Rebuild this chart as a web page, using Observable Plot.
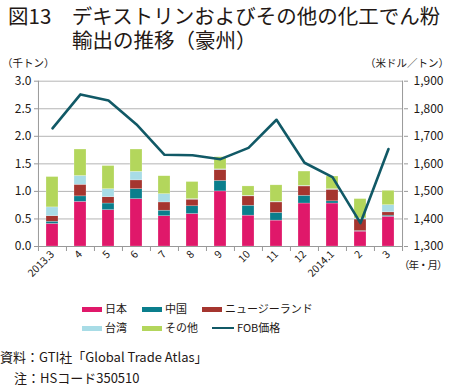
<!DOCTYPE html>
<html><head><meta charset="utf-8">
<script src="https://cdn.jsdelivr.net/npm/d3@7"></script>
<script src="https://cdn.jsdelivr.net/npm/@observablehq/plot@0.6"></script>
<style>
body{margin:0;background:#fff;font-family:"Noto Sans CJK JP","Noto Sans",sans-serif;color:#231815;}
#wrap{position:relative;width:450px;height:387px;overflow:hidden;}
.abs{position:absolute;white-space:nowrap;}
.sw{display:inline-block;width:20px;height:5px;vertical-align:middle;margin-right:3px;position:relative;top:-1px;}
.ln{display:inline-block;width:22px;height:2px;vertical-align:middle;margin-right:3px;position:relative;top:-1px;}
</style></head><body>
<div id="wrap">
<div class="abs" style="left:8px;top:4px;font-size:20.5px;line-height:22px;">図13　デキストリンおよびその他の化工でん粉</div>
<div class="abs" style="left:72px;top:28px;font-size:20.5px;line-height:22px;">輸出の推移（豪州）</div>
<div class="abs" style="left:2px;top:56px;font-size:10.5px;line-height:13px;">（千トン）</div>
<div class="abs" style="right:1px;top:56px;font-size:10.5px;line-height:13px;">（米ドル／トン）</div>
<div id="chart" class="abs" style="left:0;top:60px;"></div>
<div class="abs" style="left:399px;top:258px;font-size:10.5px;line-height:14px;letter-spacing:-1px;">（年・月）</div>
<div id="legend"></div>
<div class="abs" style="left:0;top:349px;font-size:13px;line-height:16px;">資料：GTI社「Global Trade Atlas」</div>
<div class="abs" style="left:14px;top:370px;font-size:13px;line-height:15px;">注：HSコード350510</div>
</div>
<script>
const months = ["2013.3","4","5","6","7","8","9","10","11","12","2014.1","2","3"];
const seriesNames = ["日本","中国","ニュージーランド","台湾","その他"];
const japan  = [0.41,0.81,0.66,0.86,0.55,0.59,1.00,0.56,0.47,0.78,0.78,0.27,0.54];
const china  = [0.04,0.10,0.12,0.18,0.10,0.14,0.19,0.18,0.14,0.14,0.04,0.01,0.02];
const nz     = [0.10,0.21,0.115,0.16,0.15,0.12,0.20,0.17,0.19,0.17,0.21,0.21,0.06];
const taiwan = [0.16,0.16,0.145,0.155,0.15,0.01,0.01,0.01,0.01,0.01,0.01,0.02,0.13];
const other  = [0.55,0.48,0.42,0.405,0.325,0.31,0.22,0.17,0.30,0.26,0.23,0.35,0.26];
const fob    = [1729,1852,1830,1743,1633,1631,1617,1658,1760,1604,1552,1385,1654];
const colors = ["#E0186A","#0A7E8C","#A5352F","#A8DCE6","#B3D65C"];
const lineColor = "#115966";
const leftTicks = [0,0.5,1,1.5,2,2.5,3];

const seriesValues = [japan, china, nz, taiwan, other];
const rows = [];
months.forEach((m,i)=>seriesNames.forEach((s,j)=>rows.push({month:m, series:s, value:seriesValues[j][i]})));
const fobRows = months.map((m,i)=>({month:m, v:(fob[i]-1300)/200}));
const step = 365/13;

const chart = Plot.plot({
  width:450, height:230,
  marginTop:20.7, marginBottom:44, marginLeft:38, marginRight:47,
  style:{fontFamily:"'Noto Sans CJK JP','Noto Sans',sans-serif", fontSize:"12px", color:"#231815", background:"transparent"},
  x:{domain:months, paddingInner:0.56, paddingOuter:0.28, label:null},
  y:{domain:[0,3], label:null},
  color:{domain:seriesNames, range:colors},
  marks:[
    Plot.gridY(leftTicks,{stroke:"#b5b5b5", strokeOpacity:1}),
    Plot.barY(rows,{x:"month", y:"value", fill:"series", order:seriesNames, stroke:"#fff", strokeWidth:0.5, strokeOpacity:0.45}),
    Plot.line(fobRows,{x:"month", y:"v", stroke:lineColor, strokeWidth:2.6}),
    Plot.ruleX(months,{x:d=>d, y1:0, y2:0, dx:-step/2, insetBottom:-5, stroke:"#999"}),
    Plot.ruleX(months.slice(-1),{x:d=>d, y1:0, y2:0, dx:step/2, insetBottom:-5, stroke:"#999"}),
    Plot.ruleX(months.slice(0,1),{x:d=>d, y1:0, y2:3, dx:-step/2, stroke:"#999"}),
    Plot.ruleX(months.slice(-1),{x:d=>d, y1:0, y2:3, dx:step/2, stroke:"#999"}),
    Plot.ruleY([0],{stroke:"#999"}),
    Plot.axisY(leftTicks,{anchor:"left", tickSize:4, tickPadding:3, stroke:"#999", tickFormat:d3.format(".1f"), label:null, fontSize:12}),
    Plot.axisY(leftTicks,{anchor:"right", tickSize:4, tickPadding:6, stroke:"#999", tickFormat:d=>d3.format(",")(Math.round(1300+d*200)), label:null, fontSize:12}),
    Plot.axisX({tickSize:0, tickRotate:-45, tickPadding:6, label:null, fontSize:10.5})
  ]
});
document.getElementById("chart").appendChild(chart);

const legendItems = [
  {name:"日本", color:colors[0], x:82, y:301},
  {name:"中国", color:colors[1], x:142, y:301},
  {name:"ニュージーランド", color:colors[2], x:202, y:301},
  {name:"台湾", color:colors[3], x:82, y:320},
  {name:"その他", color:colors[4], x:142, y:320}
];
const lg = document.getElementById("legend");
legendItems.forEach(it=>{
  const d=document.createElement("div");d.className="abs";
  d.style.left=it.x+"px";d.style.top=it.y+"px";d.style.fontSize="11px";d.style.lineHeight="14px";
  d.innerHTML=`<span class="sw" style="background:${it.color}"></span>${it.name}`;
  lg.appendChild(d);
});
const fl=document.createElement("div");fl.className="abs";
fl.style.left="212px";fl.style.top="320px";fl.style.fontSize="11px";fl.style.lineHeight="14px";
fl.innerHTML=`<span class="ln" style="background:${lineColor}"></span>FOB価格`;
lg.appendChild(fl);
</script>
</body></html>
